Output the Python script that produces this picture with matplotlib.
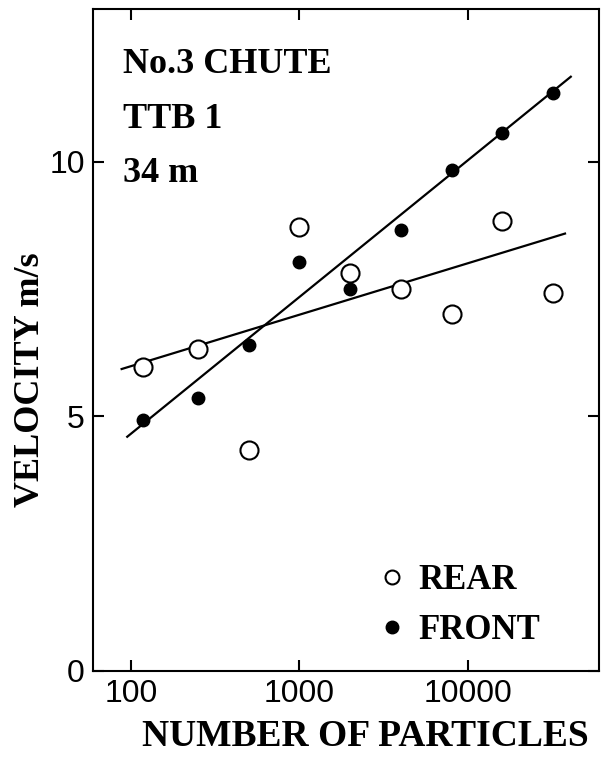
import matplotlib
matplotlib.use("Agg")
import matplotlib.pyplot as plt
from matplotlib.ticker import FixedLocator, FixedFormatter, NullLocator

# number of particles per class, velocities in m/s
particles = [118, 250, 500, 1000, 2000, 4000, 8000, 16000, 32000]
rear_velocity = [5.97, 6.33, 4.34, 8.72, 7.82, 7.50, 7.01, 8.84, 7.43]
front_velocity = [4.93, 5.36, 6.40, 8.04, 7.50, 8.66, 9.84, 10.57, 11.36]

# regression lines (end points)
rear_fit_x = [88, 37700]
rear_fit_y = [5.93, 8.59]
front_fit_x = [95, 40800]
front_fit_y = [4.60, 11.67]

x_ticks = [100, 1000, 10000]
x_ticklabels = ["100", "1000", "10000"]
y_ticks = [0, 5, 10]
y_ticklabels = ["0", "5", "10"]

serif = {"family": "Liberation Serif", "weight": "bold"}

fig = plt.figure(figsize=(6.03, 7.62), dpi=100)
ax = fig.add_axes([93 / 603, 91 / 762, 506 / 603, 662 / 762])

ax.plot(rear_fit_x, rear_fit_y, color="black", lw=1.6, zorder=2)
ax.plot(front_fit_x, front_fit_y, color="black", lw=1.6, zorder=2)
ax.plot(particles, rear_velocity, "o", ms=13, mfc="white", mec="black",
        mew=1.5, ls="none", label="REAR", zorder=3)
ax.plot(particles, front_velocity, "o", ms=9, mfc="black", mec="black",
        ls="none", label="FRONT", zorder=3)

ax.set_xscale("log")
ax.set_xlim(59.5, 60000)
ax.set_ylim(0, 13)
ax.xaxis.set_major_locator(FixedLocator(x_ticks))
ax.xaxis.set_major_formatter(FixedFormatter(x_ticklabels))
ax.xaxis.set_minor_locator(NullLocator())
ax.yaxis.set_major_locator(FixedLocator(y_ticks))
ax.yaxis.set_major_formatter(FixedFormatter(y_ticklabels))

ax.tick_params(direction="in", length=8, width=1.5, top=True, right=True,
               labelsize=23, pad=6)
ax.tick_params(axis="y", pad=6)
for lab in ax.get_xticklabels() + ax.get_yticklabels():
    lab.set_family("Liberation Sans")
for s in ax.spines.values():
    s.set_linewidth(1.5)

ax.set_xlabel("NUMBER OF PARTICLES", fontsize=27, fontdict=serif)
ax.xaxis.set_label_coords(0.538, -0.072)
ax.set_ylabel("VELOCITY m/s", fontsize=26, fontdict=serif)
ax.yaxis.set_label_coords(-0.09, 0.44)

ax.text(0.059, 0.903, "No.3 CHUTE", transform=ax.transAxes, fontsize=26,
        va="baseline", **serif)
ax.text(0.059, 0.820, "TTB 1", transform=ax.transAxes, fontsize=26,
        va="baseline", **serif)
ax.text(0.059, 0.739, "34 m", transform=ax.transAxes, fontsize=26,
        va="baseline", **serif)

leg = ax.legend(loc="lower left", bbox_to_anchor=(0.54, 0.010), frameon=False,
                handlelength=0.5, handletextpad=0.5, labelspacing=0.5,
                borderpad=0, prop={"family": "Liberation Serif",
                                   "weight": "bold", "size": 25})
leg.legend_handles[0].set_markersize(10)

fig.savefig("out.png", dpi=100)
